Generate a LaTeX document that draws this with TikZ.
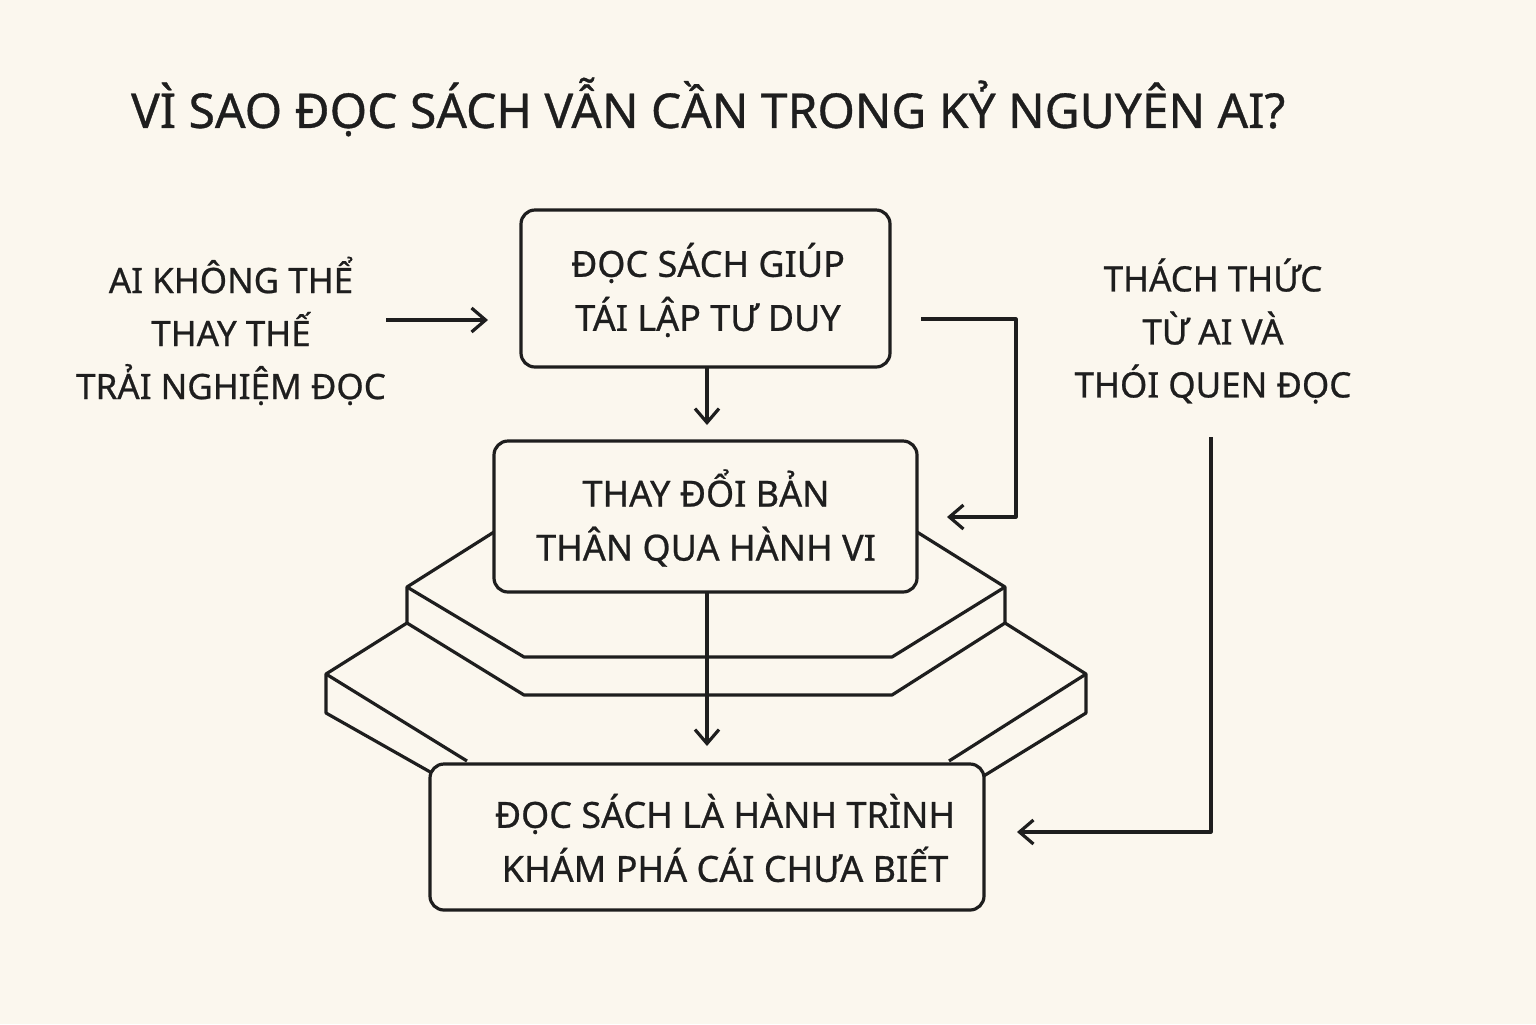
\documentclass[tikz,border=0pt]{standalone}
\usepackage{fontspec}
\setmainfont{Noto Sans}[FakeBold=0.7]
\usetikzlibrary{arrows.meta}
\definecolor{bg}{HTML}{FBF7EE}
\definecolor{ink}{HTML}{1E1E1E}
\begin{document}
\begin{tikzpicture}[x=0.5pt,y=-0.5pt,
  ln/.style={draw=ink,line width=1.6pt,line join=round},
  arr/.style={ln,-{Straight Barb[length=7pt,width=12pt,line width=1.6pt]}},
  box/.style={ln,fill=bg,rounded corners=7pt},
  txt/.style={text=ink,font=\bfseries\fontsize{18}{27}\selectfont,align=center},
  side/.style={text=ink,font=\bfseries\fontsize{17.5}{26.5}\selectfont,align=center}]
\fill[bg] (0,0) rectangle (1536,1024);
\useasboundingbox (0,0) rectangle (1536,1024);
\node[anchor=west,text=ink,font=\bfseries\fontsize{24}{30}\selectfont] (title) at (124,107) {VÌ SAO ĐỌC SÁCH VẪN CẦN TRONG KỶ NGUYÊN AI?};
% platforms
\draw[ln] (494,532) -- (407,587) -- (407,623) -- (524,695) -- (892,695) -- (1005,623) -- (1005,587) -- (917,532);
\draw[ln] (407,587) -- (524,657) -- (892,657) -- (1005,587);
\draw[ln] (407,623) -- (326,674) -- (326,713) -- (432,773);
\draw[ln] (326,674) -- (467,761);
\draw[ln] (1005,623) -- (1086,674) -- (1086,713) -- (982,777);
\draw[ln] (1086,674) -- (949,761);
% boxes
\path[box] (521,210) rectangle (890,367);
\path[box] (494,441) rectangle (917,592);
\path[box] (430,764) rectangle (984,910);
\node[txt] (b1) at (708,290) {ĐỌC SÁCH GIÚP\\TÁI LẬP TƯ DUY};
\node[txt] (b2) at (706,518) {THAY ĐỔI BẢN\\THÂN QUA HÀNH VI};
\node[txt] (b3) at (725,838) {ĐỌC SÁCH LÀ HÀNH TRÌNH\\KHÁM PHÁ CÁI CHƯA BIẾT};
\node[side] (l) at (231,331) {AI KHÔNG THỂ\\THAY THẾ\\TRẢI NGHIỆM ĐỌC};
\node[side] (r) at (1213,331) {THÁCH THỨC\\TỪ AI VÀ\\THÓI QUEN ĐỌC};
\coordinate (la) at (386,320); \coordinate (lb) at (488,320);
\draw[arr] (la) -- (lb);
\coordinate (d1) at (707,367); \coordinate (d2) at (707,425);
\draw[arr] (d1) -- (d2);
\coordinate (d3) at (707,592); \coordinate (d4) at (707,746);
\draw[arr] (d3) -- (d4);
\coordinate (c1) at (921,319); \coordinate (c2) at (947,517);
\draw[arr] (c1) -- (1016,319) -- (1016,517) -- (c2);
\coordinate (e1) at (1211,437); \coordinate (e2) at (1017,832);
\draw[arr] (e1) -- (1211,832) -- (e2);
\end{tikzpicture}
\end{document}
